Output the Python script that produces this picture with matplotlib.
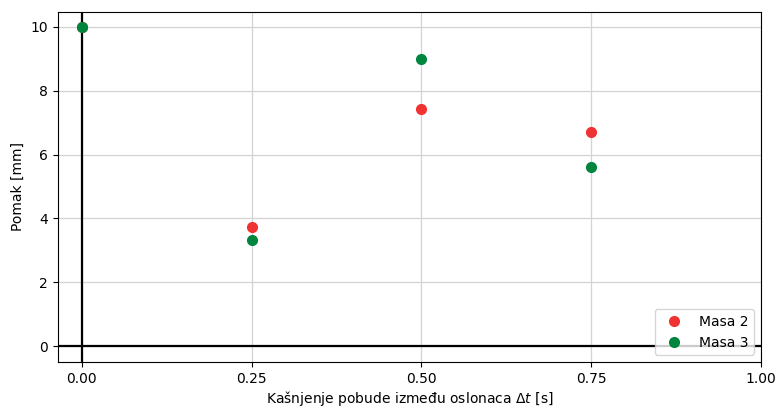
import matplotlib
matplotlib.use("Agg")
import matplotlib.pyplot as plt

delays = [0.0, 0.25, 0.5, 0.75]
masa2 = [10.0, 3.73, 7.44, 6.71]
masa3 = [10.0, 3.33, 9.0, 5.62]
xticks = [0.0, 0.25, 0.5, 0.75, 1.0]
yticks = [0, 2, 4, 6, 8, 10]

fig = plt.figure(figsize=(7.76, 4.08), dpi=100)
ax = fig.add_axes([0.0747, 0.1127, 0.906, 0.858])
ax.grid(True, color="#d3d3d3", linewidth=0.9)
ax.set_axisbelow(True)
ax.axhline(0, color="black", linewidth=1.6, zorder=2)
ax.axvline(0, color="black", linewidth=1.6, zorder=2)
ax.plot(delays, masa2, "o", color="#f03232", markersize=7, label="Masa 2", zorder=3)
ax.plot(delays, masa3, "o", color="#00853e", markersize=7, label="Masa 3", zorder=4)
ax.set_xlim(-0.035, 1.0)
ax.set_ylim(-0.5, 10.47)
ax.set_xticks(xticks)
ax.set_xticklabels([f"{t:.2f}" for t in xticks])
ax.set_yticks(yticks)
ax.set_xlabel(r"Kašnjenje pobude između oslonaca $\Delta t$ [s]", labelpad=2.5)
ax.set_ylabel("Pomak [mm]")
ax.legend(loc="lower right")
fig.savefig("out.png", dpi=100)
